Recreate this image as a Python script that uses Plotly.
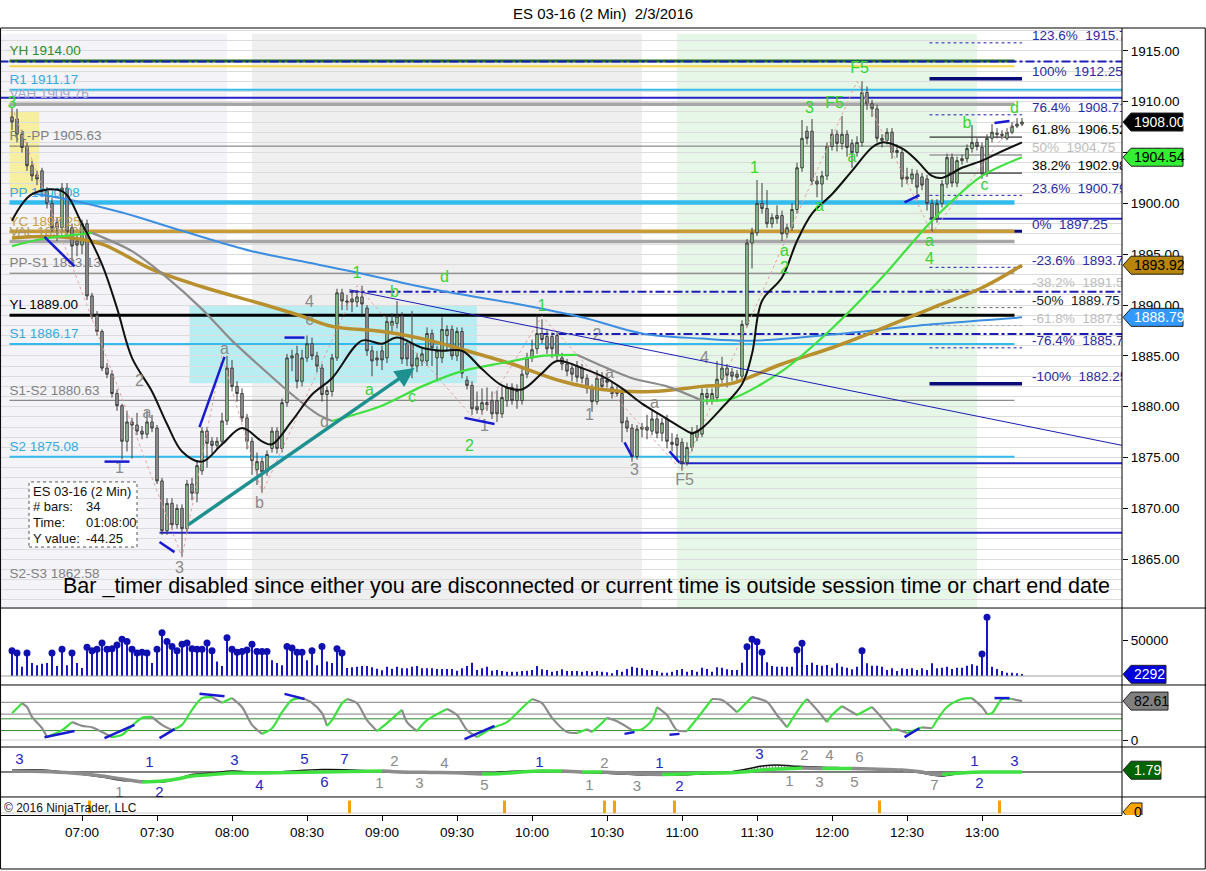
import pandas as pd
import plotly.graph_objects as go

DAY = "2016-02-03 "
FONT = "Liberation Sans, Arial, sans-serif"
NAVY = "#1c1cb4"
DARK_NAVY = "#0a0a78"
LIME = "#33d633"
GRAY_TXT = "#8a8a8a"


def ts(hm):
    return DAY + hm


# ---------------- ES 03-16, 2 min bars, first bar 06:32 ----------------
opens = [
    1908.5, 1908.3, 1906.8, 1905.6, 1903.7, 1902.8, 1903.2, 1901.2, 1900.0, 1898.1,
    1897.6, 1901.5, 1897.6, 1896.3, 1895.9, 1898.0, 1890.9, 1889.0, 1887.4, 1883.8,
    1883.2, 1881.3, 1880.1, 1876.6, 1878.5, 1878.2, 1877.6, 1877.3, 1878.5, 1877.9,
    1872.7, 1867.8, 1870.5, 1868.4, 1870.0, 1868.0, 1872.4, 1871.5, 1873.7, 1877.6,
    1876.6, 1876.2, 1876.6, 1878.6, 1883.8, 1882.0, 1881.3, 1878.9, 1876.6, 1873.8,
    1874.6, 1873.6, 1875.9, 1877.6, 1875.9, 1880.4, 1884.8, 1885.2, 1882.5, 1884.8,
    1886.2, 1885.0, 1883.8, 1881.2, 1881.5, 1884.8, 1891.2, 1890.4, 1890.6, 1890.3,
    1890.8, 1889.7, 1885.5, 1884.8, 1885.5, 1884.8, 1888.0, 1888.2, 1888.9, 1886.2,
    1886.2, 1884.0, 1884.5, 1884.5, 1887.2, 1884.8, 1884.8, 1887.0, 1887.6, 1885.0,
    1887.4, 1882.6, 1882.1, 1880.0, 1879.7, 1880.4, 1880.6, 1880.6, 1879.3, 1880.6,
    1881.9, 1880.6, 1880.6, 1883.2, 1884.8, 1885.7, 1887.2, 1886.9, 1886.9, 1887.0,
    1884.8, 1884.2, 1883.8, 1884.0, 1883.8, 1882.8, 1881.8, 1880.5, 1882.8, 1882.6,
    1881.9, 1881.3, 1881.3, 1878.6, 1877.9, 1875.1, 1877.8, 1878.0, 1877.6, 1878.8,
    1877.4, 1878.8, 1876.5, 1876.9, 1876.5, 1874.5, 1876.0, 1877.0, 1877.3, 1881.3,
    1880.6, 1880.9, 1882.7, 1883.8, 1883.4, 1883.2, 1883.0, 1888.1, 1896.1, 1897.1,
    1900.0, 1899.5, 1898.0, 1898.8, 1898.8, 1897.0, 1897.6, 1899.4, 1903.5, 1907.1,
    1907.1, 1902.2, 1901.9, 1902.7, 1905.6, 1906.8, 1905.9, 1906.8, 1905.9, 1905.0,
    1906.0, 1910.9, 1909.8, 1909.3, 1906.4, 1906.2, 1907.0, 1905.2, 1905.0, 1902.6,
    1902.4, 1902.9, 1902.6, 1902.4, 1900.0, 1898.5, 1900.0, 1901.9, 1904.5, 1902.0,
    1904.2, 1904.4, 1905.4, 1906.0, 1905.5, 1902.9, 1906.4, 1906.9, 1906.8, 1906.4,
    1907.0, 1907.6, 1907.8]
highs = [
    1909.4, 1909.3, 1907.2, 1906.0, 1904.2, 1903.2, 1903.5, 1901.6, 1900.5, 1898.6,
    1902.0, 1902.0, 1898.0, 1896.8, 1898.4, 1898.4, 1891.2, 1889.4, 1887.6, 1884.3,
    1883.6, 1881.7, 1880.3, 1879.6, 1878.9, 1879.4, 1878.1, 1879.6, 1879.2, 1878.2,
    1873.0, 1871.0, 1871.0, 1870.4, 1870.4, 1872.8, 1873.0, 1874.6, 1878.0, 1878.0,
    1877.0, 1877.0, 1879.4, 1885.0, 1884.6, 1882.5, 1881.8, 1879.3, 1877.0, 1875.5,
    1875.0, 1875.7, 1878.0, 1878.0, 1880.8, 1885.2, 1885.6, 1886.0, 1885.6, 1887.0,
    1886.8, 1885.4, 1884.2, 1882.0, 1885.2, 1891.6, 1891.6, 1891.0, 1891.3, 1891.5,
    1891.9, 1890.0, 1886.0, 1885.5, 1886.0, 1889.0, 1889.2, 1890.4, 1889.3, 1886.6,
    1889.4, 1885.3, 1885.8, 1887.8, 1887.6, 1886.0, 1888.8, 1888.0, 1888.0, 1887.8,
    1887.8, 1883.0, 1882.5, 1881.5, 1881.8, 1881.9, 1881.5, 1881.6, 1882.0, 1882.3,
    1882.3, 1882.2, 1883.8, 1885.3, 1886.6, 1888.9, 1888.6, 1887.5, 1887.3, 1887.4,
    1885.3, 1884.7, 1884.3, 1884.5, 1884.2, 1883.2, 1882.2, 1883.6, 1883.4, 1883.2,
    1882.5, 1882.0, 1881.8, 1879.0, 1878.3, 1878.2, 1878.4, 1879.2, 1879.6, 1879.4,
    1878.9, 1879.2, 1877.4, 1877.3, 1876.9, 1876.5, 1878.0, 1878.2, 1881.8, 1881.8,
    1881.8, 1884.5, 1884.9, 1884.2, 1883.8, 1883.6, 1888.5, 1896.5, 1897.6, 1902.3,
    1902.0, 1901.3, 1899.0, 1899.8, 1899.3, 1898.0, 1900.0, 1904.0, 1908.2, 1907.6,
    1908.3, 1902.7, 1903.2, 1906.0, 1907.3, 1907.2, 1908.6, 1907.2, 1906.3, 1906.6,
    1912.0, 1911.5, 1910.2, 1909.7, 1906.8, 1907.4, 1907.4, 1905.8, 1905.4, 1903.5,
    1903.4, 1903.3, 1903.0, 1902.8, 1900.4, 1900.4, 1902.3, 1904.9, 1904.9, 1904.6,
    1904.8, 1905.8, 1907.7, 1906.4, 1906.0, 1906.8, 1907.8, 1907.4, 1907.2, 1907.4,
    1908.0, 1908.4, 1908.4]
lows = [
    1907.2, 1906.0, 1905.0, 1903.2, 1902.2, 1901.8, 1900.8, 1899.5, 1897.2, 1896.3,
    1897.2, 1896.8, 1894.2, 1894.8, 1895.0, 1890.5, 1888.6, 1887.0, 1883.5, 1882.8,
    1880.9, 1879.6, 1874.8, 1875.6, 1874.9, 1877.2, 1876.8, 1876.9, 1877.5, 1872.4,
    1867.4, 1867.4, 1867.9, 1868.0, 1865.2, 1867.6, 1870.8, 1870.6, 1873.3, 1874.0,
    1875.4, 1875.8, 1876.2, 1878.2, 1881.5, 1880.5, 1878.5, 1875.8, 1873.3, 1872.3,
    1871.5, 1873.2, 1875.5, 1875.4, 1875.5, 1880.0, 1883.5, 1881.8, 1882.0, 1884.4,
    1884.6, 1883.4, 1880.5, 1879.0, 1881.0, 1884.5, 1889.5, 1889.5, 1889.3, 1889.8,
    1889.0, 1885.0, 1883.0, 1884.0, 1883.6, 1884.3, 1887.4, 1887.7, 1884.2, 1884.0,
    1882.8, 1883.4, 1884.0, 1884.0, 1884.0, 1882.5, 1884.3, 1885.5, 1884.6, 1884.5,
    1882.8, 1881.7, 1879.2, 1879.3, 1879.2, 1879.6, 1878.8, 1878.5, 1878.9, 1880.0,
    1880.2, 1879.8, 1880.2, 1882.8, 1884.4, 1885.2, 1886.2, 1885.2, 1884.8, 1884.5,
    1883.6, 1883.0, 1882.5, 1882.4, 1882.3, 1881.3, 1879.5, 1880.2, 1881.6, 1881.9,
    1880.8, 1881.0, 1876.5, 1877.5, 1874.6, 1874.8, 1877.0, 1876.8, 1877.2, 1876.9,
    1876.6, 1875.9, 1875.6, 1874.6, 1873.7, 1874.2, 1875.6, 1876.6, 1877.0, 1880.2,
    1880.2, 1880.5, 1882.3, 1881.9, 1882.5, 1882.5, 1882.6, 1887.8, 1893.6, 1896.8,
    1899.0, 1897.6, 1897.6, 1898.0, 1896.3, 1896.6, 1897.3, 1899.0, 1903.1, 1905.8,
    1901.8, 1900.6, 1900.3, 1902.3, 1905.2, 1905.1, 1905.3, 1904.6, 1903.5, 1904.6,
    1905.6, 1909.2, 1908.5, 1906.0, 1905.5, 1905.8, 1904.4, 1904.5, 1901.6, 1901.9,
    1901.9, 1900.4, 1901.3, 1899.3, 1897.1, 1898.1, 1899.6, 1901.5, 1901.6, 1901.6,
    1903.8, 1904.0, 1905.0, 1905.2, 1902.4, 1902.6, 1906.0, 1906.4, 1906.3, 1906.2,
    1906.8, 1907.4, 1907.6]
closes = [
    1908.0, 1906.8, 1905.5, 1903.7, 1902.7, 1902.4, 1901.2, 1900.0, 1897.6, 1897.6,
    1901.5, 1897.2, 1895.8, 1895.9, 1898.0, 1890.9, 1889.0, 1887.4, 1883.8, 1883.2,
    1881.3, 1880.1, 1876.6, 1878.5, 1878.2, 1877.6, 1877.3, 1878.5, 1877.9, 1872.7,
    1867.8, 1870.5, 1868.4, 1870.0, 1868.0, 1872.4, 1871.5, 1874.2, 1877.6, 1876.4,
    1876.2, 1876.6, 1878.6, 1883.8, 1882.0, 1881.3, 1878.9, 1876.6, 1874.7, 1874.6,
    1873.6, 1875.3, 1877.6, 1875.9, 1880.4, 1884.8, 1885.0, 1882.5, 1884.8, 1886.2,
    1885.0, 1884.0, 1881.2, 1881.6, 1884.8, 1891.2, 1890.4, 1890.3, 1890.3, 1890.8,
    1890.1, 1885.5, 1884.5, 1884.6, 1884.6, 1888.4, 1888.4, 1888.9, 1884.7, 1884.7,
    1884.0, 1884.8, 1885.2, 1887.2, 1885.8, 1885.5, 1887.6, 1887.6, 1885.0, 1887.4,
    1883.3, 1882.1, 1879.8, 1879.7, 1880.4, 1880.2, 1879.3, 1879.3, 1880.9, 1881.9,
    1880.6, 1881.6, 1883.2, 1884.8, 1885.6, 1887.2, 1886.6, 1885.7, 1885.7, 1885.0,
    1884.2, 1883.5, 1883.2, 1882.9, 1882.8, 1881.8, 1880.5, 1882.8, 1882.0, 1882.4,
    1881.3, 1881.5, 1878.4, 1877.9, 1875.1, 1877.8, 1878.0, 1877.7, 1878.8, 1877.4,
    1878.4, 1876.6, 1876.3, 1876.2, 1874.5, 1876.0, 1877.4, 1877.6, 1881.3, 1880.9,
    1881.3, 1882.7, 1883.8, 1883.1, 1883.0, 1882.9, 1888.1, 1896.1, 1897.1, 1900.0,
    1899.5, 1898.0, 1898.6, 1898.5, 1897.0, 1897.6, 1899.4, 1903.5, 1906.4, 1906.4,
    1902.2, 1901.9, 1902.7, 1905.6, 1906.8, 1905.9, 1906.8, 1905.5, 1905.0, 1906.0,
    1910.9, 1909.8, 1909.3, 1906.4, 1906.2, 1907.0, 1905.0, 1905.0, 1902.4, 1902.4,
    1902.9, 1901.6, 1901.8, 1900.0, 1898.5, 1900.0, 1901.9, 1904.5, 1902.0, 1904.2,
    1904.4, 1905.4, 1906.0, 1905.6, 1902.9, 1906.4, 1907.0, 1906.8, 1906.7, 1907.0,
    1907.6, 1907.8, 1908.0]
volume = [
    35000, 32000, 13000, 32000, 18000, 15000, 17000, 18000, 32000, 14000,
    37000, 15000, 32000, 18000, 11000, 40000, 35000, 37000, 46000, 37000,
    38000, 43000, 51000, 48000, 37000, 32000, 33000, 32000, 18000, 37000,
    60000, 48000, 41000, 35000, 44000, 46000, 38000, 37000, 37000, 46000,
    35000, 20000, 14000, 53000, 37000, 33000, 34000, 36000, 44000, 34000,
    34000, 34000, 22000, 18000, 15000, 41000, 39000, 33000, 33000, 22000,
    35000, 15000, 41000, 20000, 18000, 38000, 32000, 11000, 12000, 13000,
    14000, 14000, 12000, 10000, 8000, 13000, 10000, 13000,
    10600, 10600, 13000, 13900, 10600, 10600, 10600, 9700, 9700, 9700,
    9700, 7400, 10600, 13900, 18500, 8300, 10600, 13000, 7400, 8300,
    6900, 6000, 6000, 6000, 6900, 7400, 8300, 13900, 9300, 8300,
    6000, 6900, 9300, 6900, 6900, 6900, 6000, 6900, 6000, 6900,
    6000, 5100, 3700, 8300, 6000, 9700, 13000, 11600, 10600, 8300,
    8300, 6900, 4600, 4600, 6000, 8300, 9700, 6000, 8300, 6000,
    11600, 9700, 6000, 12000, 11600, 9300, 8300, 8300, 18500, 40700,
    50900, 47700, 32900, 19000, 13900, 13000, 13000, 13000, 13000, 36100,
    45400, 15300, 18500, 15300, 14400, 15300, 11600, 17600, 13000, 11600,
    9300, 13000, 35200, 17600, 14400, 14400, 13000, 8300, 10600, 6900,
    10600, 9700, 10600, 8300, 10600, 8300, 17600, 10600, 11600, 13000,
    9700, 11600, 11600, 14400, 16200, 14400, 30600, 81500, 13000, 9700,
    6900, 4600, 4600, 3700, 2292]
bar_time = pd.date_range(DAY + "06:32", periods=len(closes), freq="2min")

# ---------------- moving averages ----------------
ma_blue_t = ["06:40", "06:54", "07:16", "07:40", "08:08", "08:28", "08:48", "09:08", "09:28",
             "09:52", "10:20", "10:44", "11:08", "11:28", "12:00", "12:40", "13:16"]
ma_blue_v = [1901.0, 1900.4, 1899.1, 1897.3, 1895.3, 1894.3, 1893.3, 1892.2, 1891.2,
             1890.2, 1888.8, 1887.2, 1886.7, 1886.5, 1887.1, 1888.1, 1888.79]
ma_gold_t = ["06:32", "06:52", "07:08", "07:28", "07:48", "08:12", "08:28", "08:40", "09:00",
             "09:16", "09:34", "09:52", "10:12", "10:28", "10:48", "11:08", "11:20", "11:40",
             "12:00", "12:20", "12:40", "13:00", "13:16"]
ma_gold_v = [1896.6, 1896.7, 1896.0, 1893.5, 1891.8, 1890.1, 1888.9, 1887.9, 1887.4,
             1886.7, 1885.5, 1884.2, 1882.5, 1881.7, 1881.5, 1882.0, 1882.3, 1884.2,
             1885.8, 1887.7, 1889.7, 1891.7, 1893.92]
ma_slope_t = ["06:32", "06:44", "07:04", "07:20", "07:34", "07:48", "08:00", "08:12", "08:24",
              "08:34", "08:40", "09:00", "09:16", "09:32", "09:48", "10:04", "10:18", "10:28",
              "10:40", "10:54", "11:08", "11:20", "11:40", "12:00", "12:20", "12:40", "13:00",
              "13:16"]
ma_slope_v = [1895.8, 1896.5, 1897.1, 1895.3, 1892.7, 1889.6, 1886.5, 1883.8, 1881.2,
              1879.3, 1878.6, 1880.1, 1882.0, 1883.5, 1884.3, 1885.0, 1885.1, 1884.0,
              1882.8, 1882.0, 1880.6, 1880.8, 1883.5, 1887.7, 1892.7, 1898.3, 1902.7,
              1904.54]
ma_black_t = ["06:32", "06:40", "06:52", "07:00", "07:08", "07:14", "07:20", "07:28", "07:34",
              "07:40", "07:48", "07:56", "08:04", "08:12", "08:16", "08:24", "08:32", "08:40",
              "08:52", "09:00", "09:06", "09:16", "09:24", "09:32", "09:40", "09:48", "09:56",
              "10:04", "10:10", "10:20", "10:28", "10:36", "10:44", "10:52", "11:00", "11:04",
              "11:08", "11:16", "11:24", "11:28", "11:32", "11:40", "11:46", "11:52", "12:00",
              "12:08", "12:16", "12:20", "12:28", "12:34", "12:40", "12:44", "12:52", "13:00",
              "13:06", "13:16"]
ma_black_v = [1898.3, 1900.9, 1901.2, 1898.0, 1894.0, 1889.7, 1884.8, 1881.5, 1878.3,
              1875.6, 1874.6, 1876.3, 1877.9, 1876.6, 1876.3, 1878.6, 1881.2, 1882.8,
              1886.5, 1886.2, 1886.8, 1885.8, 1885.5, 1885.5, 1883.7, 1882.1, 1881.7,
              1883.3, 1884.5, 1883.8, 1883.0, 1881.8, 1880.3, 1879.1, 1877.9, 1877.4,
              1877.9, 1879.9, 1882.2, 1885.2, 1890.4, 1892.7, 1896.3, 1899.0, 1900.9,
              1903.2, 1905.5, 1906.0, 1905.4, 1904.2, 1902.7, 1902.5, 1903.5, 1904.2,
              1904.9, 1906.0]

# ---------------- pivot / session levels ----------------
level_name = ["YH", "R1", "VAH", "R1-PP", "PP", "YC", "VAL", "PP-S1", "YL", "S1", "S1-S2",
              "S2", "S2-S3"]
level_value = [1914.00, 1911.17, 1909.76, 1905.63, 1900.08, 1897.25, 1896.25, 1893.13,
               1889.00, 1886.17, 1880.63, 1875.08, 1862.58]

fib_pct = [123.6, 100, 76.4, 61.8, 50, 38.2, 23.6, 0, -23.6, -38.2, -50, -61.8, -76.4, -100]
fib_price = [1915.79, 1912.25, 1908.71, 1906.52, 1904.75, 1902.98, 1900.79, 1897.25,
             1893.71, 1891.52, 1889.75, 1887.98, 1885.79, 1882.25]

# horizontal lines drawn by hand
hline_price = [1913.95, 1913.5, 1910.4, 1898.5, 1891.3, 1887.15, 1874.45, 1867.6]
hline_start = ["06:27", "06:31", "06:27", "12:39", "08:47", "10:03", "10:59", "07:31"]
hline_end = ["13:56", "13:13", "13:56", "13:56", "13:56", "13:56", "13:56", "13:56"]

# short divergence strokes on price
seg_t0 = ["06:45", "07:09", "07:31", "07:47", "08:21", "09:33", "10:37", "10:55", "12:29", "13:05"]
seg_p0 = [1896.7, 1874.6, 1866.7, 1878.0, 1886.8, 1878.9, 1876.5, 1875.6, 1900.1, 1907.9]
seg_t1 = ["06:57", "07:19", "07:37", "07:57", "08:29", "09:45", "10:40", "10:59", "12:35", "13:11"]
seg_p1 = [1893.8, 1874.6, 1865.7, 1884.9, 1886.8, 1878.3, 1875.1, 1874.5, 1900.8, 1908.1]

zig_t = ["06:32", "07:40", "07:56", "08:12", "08:50", "09:38", "10:04", "11:00", "12:10",
         "12:40", "13:14"]
zig_p = [1909.5, 1865.2, 1885.0, 1871.5, 1891.9, 1878.5, 1888.9, 1873.7, 1912.0, 1897.1,
         1908.4]

# wave labels
gw_txt = ["3", "1", "b", "d", "a", "c", "2", "1", "1", "a", "2", "3", "F5", "F5", "a", "a",
          "a", "4", "b", "c", "d"]
gw_t = ["06:32", "08:50", "09:05", "09:25", "08:55", "09:12", "09:35", "10:04", "11:29",
        "11:41", "11:41", "11:51", "12:01", "12:11", "12:08", "11:55", "12:39", "12:39",
        "12:54", "13:01", "13:13"]
gw_p = [1909.8, 1893.1, 1891.2, 1892.7, 1881.5, 1880.9, 1876.0, 1889.8, 1903.4, 1895.2,
        1893.5, 1909.3, 1909.8, 1913.2, 1904.5, 1899.6, 1896.2, 1894.4, 1907.8, 1901.7,
        1909.3]
kw_txt = ["2", "a", "1", "a", "b", "3", "4", "c", "d", "1", "2", "1", "a", "a", "3", "F5", "4"]
kw_t = ["07:23", "07:26", "07:15", "07:57", "08:11", "07:39", "08:31", "08:31", "08:37",
        "09:41", "10:26", "10:23", "10:31", "10:49", "10:41", "11:01", "11:09"]
kw_p = [1882.4, 1879.3, 1873.9, 1885.6, 1870.4, 1864.0, 1890.2, 1888.4, 1878.4, 1878.0,
        1887.0, 1879.1, 1883.2, 1880.3, 1873.7, 1872.7, 1884.7]

# ---------------- stochastic ----------------
stoch_t = ["06:32", "06:36", "06:38", "06:40", "06:44", "06:46", "06:48", "06:52", "06:56",
           "07:00", "07:04", "07:08", "07:12", "07:16", "07:20", "07:24", "07:28", "07:32",
           "07:36", "07:40", "07:44", "07:48", "07:52", "07:56", "08:00", "08:04", "08:08",
           "08:12", "08:16", "08:20", "08:24", "08:28", "08:32", "08:36", "08:38", "08:40",
           "08:44", "08:46", "08:50", "08:54", "08:58", "09:02", "09:08", "09:10", "09:14",
           "09:18", "09:26", "09:30", "09:34", "09:38", "09:44", "09:50", "09:56", "10:00",
           "10:04", "10:08", "10:14", "10:18", "10:22", "10:24", "10:28", "10:30", "10:34",
           "10:40", "10:44", "10:48", "10:50", "10:54", "10:58", "11:02", "11:08", "11:12",
           "11:16", "11:22", "11:28", "11:34", "11:38", "11:42", "11:48", "11:50", "11:54",
           "11:58", "12:00", "12:04", "12:10", "12:16", "12:20", "12:24", "12:26", "12:30",
           "12:36", "12:40", "12:46", "12:52", "12:56", "13:00", "13:02", "13:04", "13:08",
           "13:12", "13:16"]
stoch_v = [57, 78, 70, 49, 25, 6, 11, 21, 38, 30, 27, 17, 6, 11, 30, 47, 49, 32, 21, 32,
           64, 89, 91, 79, 89, 70, 32, 13, 25, 59, 85, 89, 79, 57, 30, 42, 78, 87, 78, 42,
           19, 36, 64, 38, 19, 42, 66, 53, 21, 6, 25, 38, 68, 87, 78, 47, 17, 15, 23, 17,
           36, 47, 40, 21, 23, 42, 70, 53, 21, 19, 59, 87, 85, 59, 91, 81, 53, 27, 75, 87,
           64, 38, 53, 72, 53, 70, 47, 21, 23, 15, 27, 25, 70, 87, 89, 70, 55, 57, 87, 87,
           82.61]
sseg_t0 = ["06:45", "07:09", "07:31", "07:47", "08:21", "09:33", "10:37", "10:55", "12:29", "13:05"]
sseg_v0 = [6, 4, 4, 98, 98, 2, 13, 11, 6, 89]
sseg_t1 = ["06:57", "07:21", "07:37", "07:57", "08:29", "09:45", "10:41", "10:59", "12:35", "13:11"]
sseg_v1 = [19, 32, 23, 93, 87, 30, 17, 13, 25, 89]

# ---------------- oscillator panel ----------------
osc_t = ["06:32", "06:44", "06:56", "07:08", "07:16", "07:24", "07:32", "07:38", "07:44",
         "07:52", "08:00", "08:12", "08:24", "08:36", "08:48", "09:00", "09:08", "09:20",
         "09:32", "09:40", "09:48", "09:56", "10:04", "10:12", "10:20", "10:28", "10:36",
         "10:44", "10:52", "11:00", "11:08", "11:16", "11:24", "11:32", "11:38", "11:44",
         "11:48", "11:56", "12:08", "12:16", "12:28", "12:36", "12:40", "12:44", "12:52",
         "13:00", "13:08", "13:16"]
osc_slow = [0.5, 0.25, -0.5, -2, -3.5, -5, -4.5, -3.5, -2, -1.25, -0.5, -0.5, -0.25, 0, 0.25,
            0.5, 0, -0.25, -0.5, -1, -0.75, 0, 0.5, 0.5, 0, 0, -0.5, -1, -1.25, -1, -0.5,
            -0.5, 0, 1, 1.5, 1.75, 2, 1.75, 1.75, 1.5, 1, 0, -1, -1.25, -0.5, 0, 0, 0]
osc_fast = [1, 1, -0.5, -2.5, -4.2, -4.5, -5, -3.5, -1.2, -0.5, 0.5, -0.5, 0.5, 1.2, 1, 0.3,
            -0.25, -0.5, -0.5, -1, 0, 0.5, 0.75, 0.5, -0.25, -0.5, -1, -1.5, -1.5, -1.5, -1,
            -0.5, 1, 3, 3.5, 3, 2.8, 2.4, 2, 1.5, 0.5, -0.5, -1.5, -2, -0.5, 0, 0, 0]
oscb_txt = ["3", "1", "3", "4", "5", "6", "7", "1", "1", "2", "3", "1", "2", "3", "2"]
oscb_t = ["06:35", "07:27", "08:01", "08:11", "08:29", "08:37", "08:45", "10:03", "10:51",
          "10:59", "11:31", "12:57", "12:59", "13:13", "07:31"]
oscb_v = [6, 4.5, 5.5, -7, 6, -5.5, 6, 4.5, 4, -7.5, 8.5, 5, -6, 5, -10.5]
oscg_txt = ["1", "2", "1", "3", "4", "5", "2", "1", "3", "1", "2", "4", "3", "6", "5", "7"]
oscg_t = ["07:15", "09:05", "08:59", "09:15", "09:25", "09:41", "10:29", "10:23", "10:42",
          "11:43", "11:49", "11:59", "11:55", "12:11", "12:09", "12:41"]
oscg_v = [-10.5, 5, -6, -6, 4, -7, 4, -7, -7.5, -5, 8, 8, -5.5, 7, -5.5, -7]

alert_t = ["07:03", "08:47", "09:49", "10:29", "10:33", "10:57", "12:19", "13:07"]

# ---------------- styles ----------------
LEVEL_STYLE = {  # line colour, width, label colour, line runs to right edge
    "YH": ("#1f6f1f", 3, "#2d8a2d", False),
    "R1": ("#33bbee", 2, "#33aadd", True),
    "VAH": ("#a6a6a6", 3.5, "#a8a8c8", False),
    "R1-PP": ("#707070", 1, "#808080", False),
    "PP": ("#33bbee", 4.5, "#33aadd", False),
    "YC": ("#c89b35", 3.5, "#c8a040", False),
    "VAL": ("#a6a6a6", 3.5, "#a89868", False),
    "PP-S1": ("#707070", 1, "#808080", False),
    "YL": ("#000000", 3, "#000000", False),
    "S1": ("#33bbee", 2, "#33aadd", False),
    "S1-S2": ("#707070", 1, "#808080", False),
    "S2": ("#33bbee", 2, "#33aadd", False),
    "S2-S3": (None, 1, "#808080", False),
}
HLINE_STYLE = [(NAVY, 2, "dashdot"), ("#f2d648", 2, "solid"), ("#2323c8", 2, "solid"),
               ("#2323c8", 2, "solid"), (NAVY, 2, "dashdot"), (NAVY, 2, "dashdot"),
               ("#2323c8", 2, "solid"), ("#2323c8", 2, "solid")]
FIB_LINE = {123.6: (NAVY, 1, "dot"), 100: (DARK_NAVY, 3.5, "solid"), 76.4: (NAVY, 1, "dot"),
            61.8: ("#000", 1, "solid"), 50: ("#b0b0b0", 2, "solid"), 38.2: ("#000", 1, "solid"),
            23.6: (NAVY, 1, "dot"), 0: (DARK_NAVY, 3, "solid"), -23.6: (NAVY, 1, "dot"),
            -38.2: ("#aaa", 1, "dot"), -50: ("#666", 1, "dot"), -61.8: ("#aaa", 1, "dot"),
            -76.4: (NAVY, 1, "dot"), -100: (DARK_NAVY, 3.5, "solid")}
FIB_TXT = {61.8: "#000", 38.2: "#000", 50: "#bdbdbd", -38.2: "#bdbdbd", -61.8: "#bdbdbd",
           -50: "#222"}

shapes = []
annotations = []


def hline(price, t0, t1, color, width, dash="solid", layer="between"):
    shapes.append(dict(type="line", xref="x", yref="y", x0=ts(t0), x1=ts(t1), y0=price,
                       y1=price, line=dict(color=color, width=width, dash=dash), layer=layer))


def two_tone(times, vals, up_col, dn_col, width, yaxis):
    out = []
    run_t, run_v = [times[0]], [vals[0]]
    run_up = vals[1] >= vals[0]

    def emit(tt, vv, up):
        out.append(go.Scatter(x=[ts(t) for t in tt], y=vv, yaxis=yaxis, mode="lines",
                              line=dict(color=up_col if up else dn_col, width=width,
                                        shape="spline", smoothing=0.8),
                              hoverinfo="skip"))

    for k in range(1, len(vals)):
        up = vals[k] >= vals[k - 1]
        if up != run_up:
            emit(run_t, run_v, run_up)
            run_t, run_v = [times[k - 1]], [vals[k - 1]]
            run_up = up
        run_t.append(times[k])
        run_v.append(vals[k])
    emit(run_t, run_v, run_up)
    return out


def tag(yref, yval, text, bg, fg, w):
    shapes.append(dict(type="path", xref="paper", yref=yref, xsizemode="pixel",
                       ysizemode="pixel", xanchor=1, yanchor=yval,
                       path=f"M 1,0 L 9,9 L {w},9 L {w},-9 L 9,-9 Z",
                       fillcolor=bg, line=dict(color="#222", width=1), layer="above"))
    annotations.append(dict(xref="paper", yref=yref, x=1, y=yval, xanchor="left", xshift=10,
                            text=text, showarrow=False,
                            font=dict(size=14, color=fg, family=FONT)))


# ---------------- background bands ----------------
for t0, t1, col in [("06:27:12", "07:58", "#f4f4f8"), ("08:08", "10:44", "#efefef"),
                    ("10:58", "12:58", "#e7f7e7")]:
    shapes.append(dict(type="rect", xref="x", yref="y domain", x0=ts(t0), x1=ts(t1), y0=0,
                       y1=0.99, fillcolor=col, line=dict(width=0), layer="below"))
shapes.append(dict(type="rect", xref="x", yref="y", x0=ts("06:31"), x1=ts("06:43"),
                   y0=1901.0, y1=1909.0, fillcolor="#f6efa0", line=dict(width=0),
                   layer="below"))
shapes.append(dict(type="rect", xref="x", yref="y", x0=ts("07:43"), x1=ts("09:38"),
                   y0=1882.3, y1=1890.0, fillcolor="#b8eef2", line=dict(width=0),
                   layer="below"))

# fib lines first (YC covers the 0% line)
for p, v in zip(fib_pct, fib_price):
    c, w, d = FIB_LINE[p]
    hline(v, "12:39", "13:16", c, w, d)

for name, v in zip(level_name, level_value):
    c, w, _, full = LEVEL_STYLE[name]
    if c:
        hline(v, "06:31", "13:56" if full else "13:13", c, w)

for v, t0, t1, st in zip(hline_price, hline_start, hline_end, HLINE_STYLE):
    hline(v, t0, t1, st[0], st[1], st[2])

# descending trend line
shapes.append(dict(type="line", xref="x", yref="y", x0=ts("08:47"), y0=1891.5,
                   x1=ts("13:56"), y1=1876.2, line=dict(color=NAVY, width=1), layer="above"))
for a, b, c, d in zip(seg_t0, seg_p0, seg_t1, seg_p1):
    shapes.append(dict(type="line", xref="x", yref="y", x0=ts(a), y0=b, x1=ts(c), y1=d,
                       line=dict(color="#1a1ad0", width=2.5), layer="above"))

# ---------------- traces ----------------
traces = []

# level labels (drawn under the candles)
traces.append(go.Scatter(
    x=[ts("06:31")] * len(level_name), y=[v + 0.9 for v in level_value],
    text=[f"{n} {v:.2f}" for n, v in zip(level_name, level_value)], mode="text",
    textposition="middle right",
    textfont=dict(size=13.5, family=FONT, color=[LEVEL_STYLE[n][2] for n in level_name]),
    hoverinfo="skip"))

traces.append(go.Scatter(x=[ts(t) for t in zig_t], y=zig_p, mode="lines",
                         line=dict(color="#e6a3a3", width=1, dash="dot"), hoverinfo="skip"))

traces.append(go.Candlestick(
    x=bar_time, open=opens, high=highs, low=lows, close=closes, whiskerwidth=0,
    increasing=dict(fillcolor="#9ad89a", line=dict(color="#3c3c3c", width=1)),
    decreasing=dict(fillcolor="#a3a3a3", line=dict(color="#3c3c3c", width=1)),
    hoverinfo="skip"))

traces.append(go.Scatter(x=[ts(t) for t in ma_blue_t], y=ma_blue_v, mode="lines",
                         line=dict(color="#3c8ee0", width=2, shape="spline"), hoverinfo="skip"))
traces.append(go.Scatter(x=[ts(t) for t in ma_gold_t], y=ma_gold_v, mode="lines",
                         line=dict(color="#b8902e", width=3.5, shape="spline"), hoverinfo="skip"))
traces += two_tone(ma_slope_t, ma_slope_v, "#3fe03f", "#8c8c8c", 2.2, "y")
traces.append(go.Scatter(x=[ts(t) for t in ma_black_t], y=ma_black_v, mode="lines",
                         line=dict(color="#111", width=2, shape="spline"), hoverinfo="skip"))

# fib labels, clipped at the plot edge
traces.append(go.Scatter(
    x=[ts("13:20")] * len(fib_pct), y=[v + 0.6 for v in fib_price],
    text=[f"{p:g}%  {v:.2f}" for p, v in zip(fib_pct, fib_price)], mode="text",
    textposition="middle right", cliponaxis=True,
    textfont=dict(size=13.5, family=FONT, color=[FIB_TXT.get(p, "#2a2aa0") for p in fib_pct]),
    hoverinfo="skip"))

traces.append(go.Scatter(x=[ts(t) for t in gw_t], y=gw_p, text=gw_txt, mode="text",
                         textfont=dict(size=16, family=FONT, color=LIME), hoverinfo="skip"))
traces.append(go.Scatter(x=[ts(t) for t in kw_t], y=kw_p, text=kw_txt, mode="text",
                         textfont=dict(size=16, family=FONT, color=GRAY_TXT), hoverinfo="skip"))

# volume
traces.append(go.Bar(x=bar_time, y=volume, yaxis="y2", width=45000,
                     marker=dict(color="#1616c0", line=dict(width=0)), hoverinfo="skip"))
big = [(t, v) for t, v in zip(bar_time, volume) if v > 28000]
traces.append(go.Scatter(x=[t for t, _ in big], y=[v for _, v in big], yaxis="y2",
                         mode="markers", marker=dict(color="#1010b0", size=7),
                         hoverinfo="skip"))

# stochastic
traces += two_tone(stoch_t, stoch_v, "#3fe03f", "#8c8c8c", 2.2, "y3")
for a, b, c, d in zip(sseg_t0, sseg_v0, sseg_t1, sseg_v1):
    traces.append(go.Scatter(x=[ts(a), ts(c)], y=[b, d], yaxis="y3", mode="lines",
                             line=dict(color="#1a1ad0", width=2.5), hoverinfo="skip"))

# oscillator with hatched band
traces.append(go.Scatter(x=[ts(t) for t in osc_t], y=osc_slow, yaxis="y4", mode="lines",
                         line=dict(color="rgba(0,0,0,0)", width=0, shape="spline"),
                         hoverinfo="skip"))
traces.append(go.Scatter(x=[ts(t) for t in osc_t], y=osc_fast, yaxis="y4", mode="lines",
                         fill="tonexty",
                         fillpattern=dict(shape="|", fgcolor="#222", bgcolor="white",
                                          size=3, solidity=0.45),
                         line=dict(color="#111", width=1.5, shape="spline"), hoverinfo="skip"))
traces += two_tone(osc_t, osc_slow, "#3fe03f", "#8c8c8c", 3.5, "y4")
traces.append(go.Scatter(x=[ts(t) for t in oscb_t], y=oscb_v, text=oscb_txt, yaxis="y4",
                         mode="text", cliponaxis=True,
                         textfont=dict(size=15, family=FONT, color="#2525c0"), hoverinfo="skip"))
traces.append(go.Scatter(x=[ts(t) for t in oscg_t], y=oscg_v, text=oscg_txt, yaxis="y4",
                         mode="text", cliponaxis=True,
                         textfont=dict(size=15, family=FONT, color=GRAY_TXT), hoverinfo="skip"))

# alerts
traces.append(go.Scatter(x=[ts(t) for t in alert_t], y=[0.45] * len(alert_t), yaxis="y5",
                         mode="markers",
                         marker=dict(symbol="line-ns", size=9,
                                     line=dict(color="#f5a00f", width=3)),
                         hoverinfo="skip"))

fig = go.Figure(traces)

# teal arrow
annotations.append(dict(x=ts("09:13"), y=1883.8, ax=ts("07:42"), ay=1868.3, xref="x", yref="y",
                        axref="x", ayref="y", text="", showarrow=True, arrowhead=2,
                        arrowsize=1.1, arrowwidth=3.5, arrowcolor="#1f9090"))

# info box
shapes.append(dict(type="rect", xref="x", yref="y", x0=ts("06:38:48"), x1=ts("07:22"),
                   y0=1866.2, y1=1872.6, fillcolor="white",
                   line=dict(color="#555", width=1, dash="dot"), layer="above"))
for txt, t, p in [("ES 03-16 (2 Min)", "06:39:36", 1871.7), ("# bars:", "06:39:36", 1870.2),
                  ("34", "07:00:48", 1870.2), ("Time:", "06:39:36", 1868.6),
                  ("01:08:00", "07:00:48", 1868.6), ("Y value:", "06:39:36", 1867.0),
                  ("-44.25", "07:00:48", 1867.0)]:
    annotations.append(dict(x=ts(t), y=p, xref="x", yref="y", text=txt, showarrow=False,
                            xanchor="left", font=dict(size=13, family=FONT, color="#111")))

annotations.append(dict(
    xref="paper", yref="y", x=586 / 1122, y=1862.4, showarrow=False,
    text="Bar _timer disabled since either you are disconnected or current time is outside "
         "session time or chart end date",
    font=dict(size=21.5, family=FONT, color="#000")))
annotations.append(dict(xref="paper", yref="paper", x=603 / 1122, y=1.0185, yanchor="middle",
                        showarrow=False, text="ES 03-16 (2 Min)  2/3/2016",
                        font=dict(size=15, family=FONT, color="#000")))
annotations.append(dict(xref="paper", yref="y5", x=0.002, y=0.4, xanchor="left",
                        showarrow=False, text="© 2016 NinjaTrader, LLC",
                        font=dict(size=12, family=FONT, color="#111")))

# right-side value tags
tag("y", 1908.00, "1908.00", "#000000", "#ffffff", 61)
tag("y", 1904.54, "1904.54", "#33ee33", "#000000", 61)
tag("y", 1893.92, "1893.92", "#b8860b", "#000000", 61)
tag("y", 1888.79, "1888.79", "#3399ff", "#ffffff", 61)
tag("y2", 2292, "2292", "#0000dd", "#ffffff", 44)
tag("y3", 82.61, "82.61", "#808080", "#000000", 46)
tag("y4", 0.9, "1.79", "#006400", "#ffffff", 39)
tag("y5", 0.17, "0", "#ffa500", "#000000", 20)

# sub-panel guide lines
shapes.append(dict(type="line", xref="paper", yref="y2", x0=0, x1=1, y0=0, y1=0,
                   line=dict(color="#a0a0a0", width=1)))
for v, col in [(80, "#808080"), (55, "#808080"), (45, "#2e8b2e"), (20, "#2e8b2e"),
               (0, "#d0d0d0")]:
    shapes.append(dict(type="line", xref="paper", yref="y3", x0=0, x1=1, y0=v, y1=v,
                       line=dict(color=col, width=1), layer="below"))
shapes.append(dict(type="line", xref="paper", yref="y4", x0=0, x1=1, y0=0, y1=0,
                   line=dict(color="#000", width=1), layer="below"))
shapes.append(dict(type="line", xref="paper", yref="y5", x0=0, x1=1, y0=0.11, y1=0.11,
                   line=dict(color="#d0d0d0", width=1), layer="below"))

# panel frames
for yp in [0.2630, 0.1652, 0.0864, 0.0229]:
    shapes.append(dict(type="line", xref="paper", yref="paper", x0=0, x1=1.075, y0=yp, y1=yp,
                       line=dict(color="#000", width=1), layer="above"))
shapes.append(dict(type="line", xref="paper", yref="paper", x0=1, x1=1, y0=0, y1=1,
                   line=dict(color="#000", width=1), layer="above"))
shapes.append(dict(type="rect", xref="paper", yref="paper", x0=0.0005, x1=1.0742, y0=-0.0686,
                   y1=1.0, line=dict(color="#000", width=1), layer="above"))

tick_t = ["07:00", "07:30", "08:00", "08:30", "09:00", "09:30", "10:00", "10:30", "11:00",
          "11:30", "12:00", "12:30", "13:00"]

fig.update_layout(
    width=1206, height=871, margin=dict(l=0, r=84, t=28, b=56),
    paper_bgcolor="white", plot_bgcolor="white", showlegend=False,
    font=dict(family=FONT, size=13, color="#000"),
    shapes=shapes, annotations=annotations,
    xaxis=dict(type="date", range=[ts("06:27:12"), ts("13:56")], anchor="y5",
               tickvals=[ts(t) for t in tick_t], ticktext=tick_t, ticks="outside",
               ticklen=5, tickcolor="#000", showgrid=False, showline=True, linecolor="#000",
               rangeslider=dict(visible=False), tickfont=dict(size=13.5), zeroline=False),
    yaxis=dict(domain=[0.2630, 1], range=[1860.2, 1917.25], side="right", anchor="x",
               tickmode="linear", tick0=1865, dtick=5, tickformat=".2f", ticks="outside",
               ticklen=5, tickcolor="#000", showgrid=True, gridcolor="#dcdcdc",
               minor=dict(dtick=1, showgrid=True, gridcolor="#dcdcdc"),
               zeroline=False, tickfont=dict(size=13.5)),
    yaxis2=dict(domain=[0.1652, 0.2630], range=[-12500, 94444], side="right", anchor="x",
                tickvals=[50000], ticktext=["50000"], ticks="outside", ticklen=5,
                tickcolor="#000", showgrid=False, zeroline=False, tickfont=dict(size=13.5)),
    yaxis3=dict(domain=[0.0864, 0.1652], range=[-14.86, 116.8], side="right", anchor="x",
                tickvals=[0], ticktext=["0"], ticks="outside", ticklen=5, tickcolor="#000",
                showgrid=False, zeroline=False, tickfont=dict(size=13.5)),
    yaxis4=dict(domain=[0.0229, 0.0864], range=[-12.5, 12.5], side="right", anchor="x",
                showticklabels=False, showgrid=False, zeroline=False),
    yaxis5=dict(domain=[0, 0.0229], range=[0, 1], side="right", anchor="x",
                showticklabels=False, showgrid=False, zeroline=False),
)

# the page's default 8px body margin would shift the whole chart
fig.write_html("out.html", config=dict(displayModeBar=False),
               post_script="document.body.style.margin='0px';")
